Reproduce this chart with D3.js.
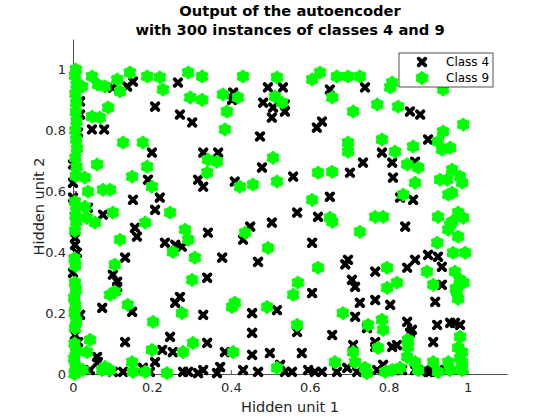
<!DOCTYPE html>
<html>
<head>
<meta charset="utf-8">
<script src="https://cdn.jsdelivr.net/npm/d3@7"></script>
<style>
  html, body { margin: 0; padding: 0; background: #fff; }
  svg { display: block; font-family: "DejaVu Sans", sans-serif; }
</style>
</head>
<body>
<svg id="chart" width="560" height="420"></svg>
<script>
// ---------- data ----------
const titleLines = ["Output of the autoencoder", "with 300 instances of classes 4 and 9"];
const xLabel = "Hidden unit 1";
const yLabel = "Hidden unit 2";
const seriesNames = ["Class 4", "Class 9"];
const tickValues = [0, 0.2, 0.4, 0.6, 0.8, 1];
const tickLabels = ["0", "0.2", "0.4", "0.6", "0.8", "1"];

// Class 4 (black crosses): [hidden unit 1, hidden unit 2]
const class4 = [
  [0.137,0.944],[0.152,0.96],[0.101,0.94],[0.266,0.957],[0.208,0.878],[0.271,0.852],[0.302,0.826],
  [0.048,0.803],[0.079,0.803],[0.013,0.793],[0.20,0.727],[0.19,0.638],[0.152,0.572],[0.22,0.579],
  [0.208,0.539],[0.038,0.546],[0.076,0.523],[0.0,0.628],[0.0,0.579],[0.018,0.895],[0.018,0.852],[0.0,0.688],
  [0.406,0.924],[0.403,0.90],[0.494,0.941],[0.532,0.941],[0.482,0.891],[0.507,0.875],[0.537,0.885],
  [0.537,0.862],[0.504,0.842],[0.474,0.78],[0.618,0.809],[0.631,0.829],[0.33,0.727],[0.368,0.727],
  [0.479,0.678],[0.558,0.648],[0.317,0.638],[0.33,0.615],[0.41,0.632],[0.568,0.53],[0.621,0.516],
  [0.651,0.934],[0.74,0.941],[0.854,0.862],[0.88,0.852],[0.90,0.77],[0.783,0.727],[0.735,0.694],
  [0.702,0.661],[0.809,0.694],[0.811,0.645],[0.867,0.697],[0.651,0.582],[0.829,0.579],[0.862,0.572],
  [0.157,0.48],[0.162,0.451],[0.233,0.431],[0.259,0.424],[0.276,0.418],[0.132,0.382],[0.101,0.326],
  [0.112,0.303],[0.112,0.286],[0.271,0.253],[0.259,0.234],[0.074,0.217],[0.15,0.204],[0.018,0.194],
  [0.132,0.105],[0.246,0.122],[0.226,0.079],[0.253,0.072],[0.061,0.056],[0.063,0.039],[0.208,0.039],
  [0.043,0.013],[0.101,0.007],[0.127,0.007],[0.177,0.02],[0.195,0.007],[0.279,0.007],[0.005,0.447],
  [0.005,0.424],[0.01,0.398],[0.0,0.332],[0.005,0.128],[0.013,0.105],
  [0.449,0.484],[0.431,0.441],[0.504,0.497],[0.342,0.464],[0.606,0.431],[0.378,0.382],[0.469,0.368],
  [0.34,0.316],[0.606,0.266],[0.33,0.194],[0.454,0.20],[0.517,0.21],[0.454,0.135],[0.568,0.138],
  [0.34,0.102],[0.385,0.072],[0.454,0.063],[0.499,0.069],[0.58,0.069],
  [0.292,0.007],[0.317,0.003],[0.33,0.013],[0.365,0.003],[0.373,0.023],[0.431,0.013],[0.469,0.007],
  [0.525,0.03],[0.537,0.007],[0.555,0.007],[0.596,0.013],[0.613,0.007],[0.631,0.007],
  [0.842,0.484],[0.697,0.375],[0.69,0.36],[0.766,0.336],[0.847,0.349],[0.867,0.375],[0.90,0.391],
  [0.925,0.385],[0.935,0.352],[0.707,0.309],[0.715,0.286],[0.935,0.293],[0.766,0.243],[0.727,0.234],
  [0.804,0.227],[0.918,0.237],[0.715,0.188],[0.847,0.171],[0.859,0.145],[0.854,0.135],[0.745,0.151],
  [0.923,0.161],[0.956,0.168],[0.968,0.168],[0.981,0.161],[0.657,0.128],[0.913,0.105],[0.766,0.105],
  [0.766,0.089],[0.71,0.095],[0.809,0.089],[0.821,0.095],[0.786,0.03],[0.771,0.013],[0.834,0.013],
  [0.669,0.007],[0.695,0.02],[0.72,0.007],[0.892,0.013],[0.905,0.007],[0.943,0.013],[0.867,0.013],
  [0.90,0.007],[0.816,0.013]
];

// Class 9 (green hexagrams): [hidden unit 1, hidden unit 2]
const class9 = [
  [0.005,0.98],[0.048,0.977],[0.063,0.95],[0.081,0.944],[0.023,0.944],[0.112,0.967],[0.119,0.928],
  [0.144,0.99],[0.188,0.977],[0.22,0.974],[0.228,0.934],[0.292,0.99],[0.297,0.908],[0.048,0.845],
  [0.068,0.842],[0.089,0.875],[0.127,0.76],[0.177,0.76],[0.061,0.688],[0.188,0.681],[0.20,0.615],
  [0.15,0.648],[0.03,0.645],[0.038,0.599],[0.076,0.605],[0.094,0.605],[0.03,0.549],[0.101,0.53],
  [0.246,0.53],[0.005,0.566],
  [0.327,0.977],[0.431,0.977],[0.517,0.974],[0.606,0.967],[0.626,0.99],[0.327,0.90],[0.38,0.918],
  [0.418,0.908],[0.512,0.911],[0.53,0.891],[0.39,0.862],[0.385,0.803],[0.507,0.71],[0.342,0.704],
  [0.365,0.697],[0.34,0.661],[0.423,0.615],[0.456,0.622],[0.517,0.632],[0.621,0.661],[0.606,0.572],
  [0.669,0.977],[0.697,0.977],[0.727,0.977],[0.809,0.957],[0.804,0.941],[0.938,0.934],[0.657,0.908],
  [0.71,0.862],[0.771,0.885],[0.824,0.878],[0.989,0.819],[0.938,0.796],[0.925,0.763],[0.935,0.737],
  [0.956,0.743],[0.783,0.77],[0.697,0.76],[0.697,0.73],[0.816,0.73],[0.862,0.747],[0.847,0.688],
  [0.875,0.678],[0.961,0.671],[0.867,0.628],[0.93,0.638],[0.948,0.638],[0.981,0.648],[0.986,0.628],
  [0.961,0.595],[0.951,0.589],[0.837,0.589],[0.657,0.664],[0.976,0.53],[0.925,0.516],[0.766,0.516],
  [0.786,0.516],[0.651,0.513],
  [0.056,0.497],[0.035,0.513],[0.119,0.441],[0.183,0.497],[0.284,0.474],[0.292,0.441],[0.253,0.401],
  [0.302,0.309],[0.106,0.359],[0.094,0.26],[0.106,0.27],[0.139,0.227],[0.276,0.20],[0.203,0.171],
  [0.043,0.112],[0.035,0.072],[0.20,0.079],[0.279,0.072],[0.304,0.102],[0.15,0.039],[0.081,0.023],
  [0.074,0.013],[0.094,0.013],[0.152,0.007],[0.183,0.007],[0.238,0.003],[0.025,0.013],
  [0.436,0.464],[0.494,0.414],[0.309,0.382],[0.41,0.234],[0.403,0.22],[0.492,0.22],[0.57,0.30],
  [0.558,0.26],[0.621,0.349],[0.568,0.161],[0.406,0.072],[0.517,0.02],
  [0.657,0.50],[0.727,0.467],[0.961,0.50],[0.951,0.474],[0.976,0.451],[0.923,0.431],[0.963,0.398],
  [0.994,0.398],[0.796,0.349],[0.897,0.336],[0.913,0.293],[0.796,0.283],[0.821,0.30],[0.968,0.336],
  [0.98,0.31],[0.97,0.28],[0.976,0.247],[0.99,0.30],[0.684,0.20],[0.748,0.161],[0.783,0.178],
  [0.786,0.145],[0.849,0.112],[0.849,0.089],[0.773,0.086],[0.71,0.072],[0.715,0.039],[0.664,0.039],
  [0.74,0.02],[0.745,0.003],[0.791,0.007],[0.809,0.013],[0.847,0.056],[0.867,0.039],[0.875,0.013],
  [0.913,0.039],[0.925,0.007],[0.951,0.039],[0.956,0.013],[0.981,0.122],[0.986,0.072],[0.986,0.039],
  [0.986,0.013],[0.976,0.086],[0.989,0.513],[0.956,0.49],[0.973,0.27],[0.981,0.053],[0.829,0.02],
  // column along hidden unit 1 = 0
  [0.004,0.0],[0.006,0.025],[0.003,0.05],[0.007,0.075],[0.004,0.10],[0.005,0.15],[0.008,0.175],
  [0.004,0.20],[0.006,0.225],[0.003,0.25],[0.007,0.275],[0.005,0.30],[0.006,0.355],[0.004,0.38],
  [0.005,0.47],[0.008,0.50],[0.006,0.52],[0.008,0.55],[0.007,0.65],[0.009,0.68],[0.006,0.71],
  [0.01,0.74],[0.008,0.77],[0.006,0.80],[0.009,0.83],[0.007,0.86],[0.008,0.89],[0.006,0.92],
  [0.009,0.95],[0.007,1.0]
];

// ---------- chart ----------
const svg = d3.select("#chart");
const x = d3.scaleLinear().domain([0, 1.1]).range([73, 507]);
const y = d3.scaleLinear().domain([0, 1.1]).range([374, 39]);
const axisColor = "#262626";

// axes
const xAxis = d3.axisBottom(x).tickValues(tickValues)
  .tickFormat((d, i) => tickLabels[i]).tickSizeInner(-4).tickSizeOuter(0).tickPadding(9);
const yAxis = d3.axisLeft(y).tickValues(tickValues)
  .tickFormat((d, i) => tickLabels[i]).tickSizeInner(-4).tickSizeOuter(0).tickPadding(7);

const gx = svg.append("g").attr("transform", `translate(0,${y(0)})`).call(xAxis);
const gy = svg.append("g").attr("transform", `translate(${x(0)},0)`).call(yAxis);
[gx, gy].forEach(g => {
  g.select(".domain").attr("stroke", axisColor).attr("stroke-width", 0.8);
  g.selectAll(".tick line").attr("stroke", axisColor).attr("stroke-width", 0.8);
  g.selectAll(".tick text").attr("fill", axisColor)
    .style("font-family", "DejaVu Sans").style("font-size", "13px");
});

// markers
const crossPath = "M-3.3,-3.3L3.3,3.3M-3.3,3.3L3.3,-3.3";
function hexagramPath(ro, ri) {
  const pts = [];
  for (let k = 0; k < 12; k++) {
    const a = -Math.PI / 2 + k * Math.PI / 6;
    const r = k % 2 === 0 ? ro : ri;
    pts.push([r * Math.cos(a), r * Math.sin(a)]);
  }
  return "M" + pts.map(p => p[0].toFixed(2) + "," + p[1].toFixed(2)).join("L") + "Z";
}
const hexPath = hexagramPath(6.7, 5.1);

const plot = svg.append("g");
plot.selectAll("path.c4").data(class4).join("path")
  .attr("class", "c4")
  .attr("transform", d => `translate(${x(d[0])},${y(d[1])})`)
  .attr("d", crossPath)
  .attr("stroke", "#000").attr("stroke-width", 3.8).attr("stroke-linecap", "round")
  .attr("fill", "none");

plot.selectAll("path.c9").data(class9).join("path")
  .attr("class", "c9")
  .attr("transform", d => `translate(${x(d[0])},${y(d[1])})`)
  .attr("d", hexPath)
  .attr("fill", "#00ff00").attr("stroke", "#00ff00").attr("stroke-width", 1)
  .attr("stroke-linejoin", "round");

// title
svg.append("g").selectAll("text").data(titleLines).join("text")
  .attr("x", 290).attr("y", (d, i) => 16 + i * 19)
  .attr("text-anchor", "middle")
  .style("font-family", "DejaVu Sans").style("font-weight", "bold").style("font-size", "14.7px")
  .attr("fill", "#000").text(d => d);

// axis labels
svg.append("text").attr("x", 290).attr("y", 412).attr("text-anchor", "middle")
  .style("font-size", "14.5px").attr("fill", axisColor).text(xLabel);
svg.append("text").attr("transform", `translate(44,${(y(0) + y(1.1)) / 2}) rotate(-90)`)
  .attr("text-anchor", "middle")
  .style("font-size", "14.5px").attr("fill", axisColor).text(yLabel);

// legend
const leg = svg.append("g");
leg.append("rect").attr("x", 399).attr("y", 53).attr("width", 94).attr("height", 34)
  .attr("fill", "#fff").attr("stroke", axisColor).attr("stroke-width", 0.8);
const legRows = leg.selectAll("g.row").data(seriesNames).join("g")
  .attr("class", "row")
  .attr("transform", (d, i) => `translate(422,${62 + i * 16})`);
legRows.filter((d, i) => i === 0).append("path").attr("d", crossPath)
  .attr("stroke", "#000").attr("stroke-width", 3.8).attr("stroke-linecap", "round").attr("fill", "none");
legRows.filter((d, i) => i === 1).append("path").attr("d", hexPath)
  .attr("fill", "#00ff00").attr("stroke", "#00ff00").attr("stroke-width", 1).attr("stroke-linejoin", "round");
legRows.append("text").attr("x", 24).attr("dy", "0.35em")
  .style("font-size", "12px").attr("fill", "#000").text(d => d);
</script>
</body>
</html>
